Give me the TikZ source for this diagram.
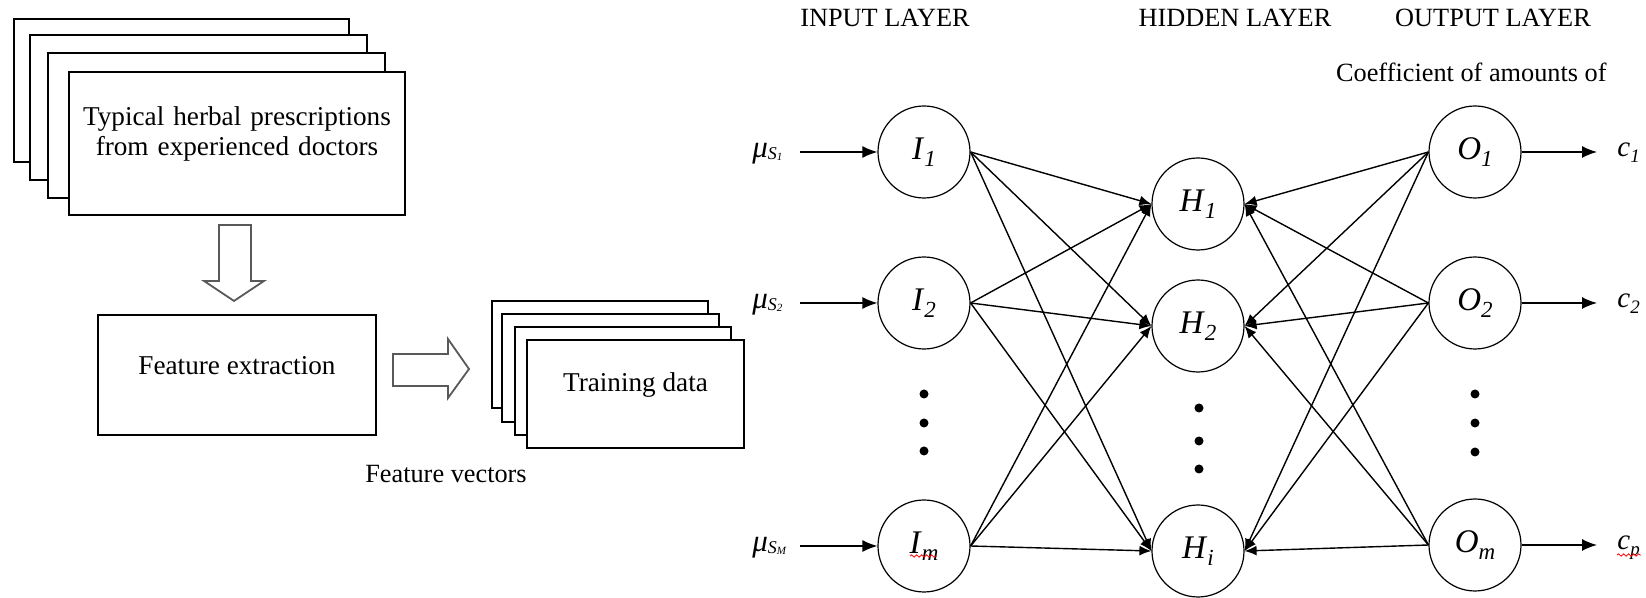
\documentclass[tikz,border=0pt]{standalone}
\usepackage{fontspec}
\setmainfont{Liberation Serif}
\usetikzlibrary{arrows.meta,fit,decorations.pathmorphing}
\newcommand\bodysize{\fontsize{13.15}{14.6}\selectfont}
\newcommand\boxsize{\fontsize{13.6}{14.8}\selectfont}
\newcommand\nodesize{\fontsize{16.5}{18}\selectfont}
\newcommand\nsub[2]{\textit{#1}\raisebox{-0.2em}{\fontsize{11.5}{12}\selectfont\textit{#2}}}
\newcommand\csub[2]{\textit{#1}\raisebox{-0.2em}{\fontsize{9.5}{10}\selectfont\textit{#2}}}
\newcommand\mulbl[1]{\fontsize{15.5}{16}\selectfont\textit{μ}\raisebox{-0.05em}{\fontsize{9}{9}\selectfont\textit{S}\raisebox{-0.05em}{\fontsize{5.5}{6}\selectfont\textit{#1}}}}
\begin{document}
\begin{tikzpicture}[x=0.5pt,y=-0.5pt,
  card/.style={draw, line width=0.9pt, fill=white, inner sep=0pt},
  neuron/.style={circle, draw, line width=0.6pt, minimum size=46pt, inner sep=0pt, font=\nodesize},
  link/.style={line width=0.7pt, -{Latex[length=6pt,width=5pt]}},
  inarrow/.style={line width=0.7pt, -{Latex[length=7.5pt,width=6pt]}},
  lbl/.style={font=\bodysize, anchor=base, inner sep=0pt},
  hollow/.style={draw=black!65, line width=0.9pt, fill=white},
  dotmark/.style={fill=black},
  squiggle/.style={red, line width=0.4pt, decorate, decoration={snake, amplitude=0.6pt, segment length=2.5pt}}
]
\useasboundingbox (0,0) rectangle (1646,598);

% stacked prescriptions
\node[card, fit={(14,19)(349,162)}] (p4) {};
\node[card, fit={(30,35)(367,180)}] (p3) {};
\node[card, fit={(48,53)(385,198)}] (p2) {};
\node[card, fit={(69,72)(405,215)}, align=center, font=\boxsize] (p1) {Typical herbal prescriptions\\from experienced doctors};

% feature extraction
\node[card, fit={(98,315)(376,435)}, font=\boxsize] (fe) {Feature extraction};

% training data stack
\node[card, fit={(492,301)(708,408)}] (t4) {};
\node[card, fit={(502,314)(719,422)}] (t3) {};
\node[card, fit={(515,327)(731,435)}] (t2) {};
\node[card, fit={(527,340)(744,448)}, font=\boxsize] (t1) {Training data};

% hollow arrows
\draw[hollow] (219,225) -- (251,225) -- (251,281) -- (264,281) -- (234,301) -- (204,281) -- (219,281) -- cycle;
\draw[hollow] (393,354) -- (448,354) -- (448,339) -- (469,369) -- (448,398) -- (448,386) -- (393,386) -- cycle;

\node[lbl] (fv) at (446,483) {Feature vectors};

% layer headings
\node[lbl] (hin) at (885,27) {INPUT LAYER};
\node[lbl] (hhid) at (1235,27) {HIDDEN LAYER};
\node[lbl] (hout) at (1493,27) {OUTPUT LAYER};
\node[lbl, anchor=base east] (coef) at (1607,82) {Coefficient of amounts of};

% neurons
\node[neuron] (I1) at (924,152) {\nsub{I}{1}};
\node[neuron] (I2) at (924,303) {\nsub{I}{2}};
\node[neuron] (Im) at (924,546) {\nsub{I}{m}};
\node[neuron] (H1) at (1198,204) {\nsub{H}{1}};
\node[neuron] (H2) at (1198,326) {\nsub{H}{2}};
\node[neuron] (Hi) at (1198,551) {\nsub{H}{i}};
\node[neuron] (O1) at (1475,152) {\nsub{O}{1}};
\node[neuron] (O2) at (1475,303) {\nsub{O}{2}};
\node[neuron] (Om) at (1475,545) {\nsub{O}{m}};

% dots
\foreach \yy in {394,423,451} \fill[dotmark] (924,\yy) circle (4.5);
\foreach \yy in {408,441,469} \fill[dotmark] (1199,\yy) circle (4.5);
\foreach \yy in {394,423,452} \fill[dotmark] (1475,\yy) circle (4.5);

% connections
\foreach \a in {I1,I2,Im}
  \foreach \b in {H1,H2,Hi}
    \draw[link] (\a.east) -- (\b.west);
\foreach \a in {O1,O2,Om}
  \foreach \b in {H1,H2,Hi}
    \draw[link] (\a.west) -- (\b.east);

% inputs
\node[anchor=base west, inner sep=0pt] (mu1) at (752,158) {\mulbl{1}};
\node[anchor=base west, inner sep=0pt] (mu2) at (752,309) {\mulbl{2}};
\node[anchor=base west, inner sep=0pt] (muM) at (752,552) {\mulbl{M}};
\coordinate (s1) at (800,152);
\coordinate (s2) at (800,303);
\coordinate (sM) at (800,546);
\draw[inarrow] (s1) -- (I1);
\draw[inarrow] (s2) -- (I2);
\draw[inarrow] (sM) -- (Im);

% outputs
\coordinate (e1) at (1597,152);
\coordinate (e2) at (1597,303);
\coordinate (eP) at (1597,545);
\draw[inarrow] (O1) -- (e1);
\draw[inarrow] (O2) -- (e2);
\draw[inarrow] (Om) -- (eP);
\node[anchor=base west, inner sep=0pt, font=\fontsize{14.5}{15}\selectfont] (c1) at (1617,157) {\csub{c}{1}};
\node[anchor=base west, inner sep=0pt, font=\fontsize{14.5}{15}\selectfont] (c2) at (1617,308) {\csub{c}{2}};
\node[anchor=base west, inner sep=0pt, font=\fontsize{14.5}{15}\selectfont] (cp) at (1617,550) {\csub{c}{p}};

% spell-check squiggles
\draw[squiggle] (910,556) -- (937,556);
\draw[squiggle] (1617,555) -- (1641,555);
\end{tikzpicture}
\end{document}
